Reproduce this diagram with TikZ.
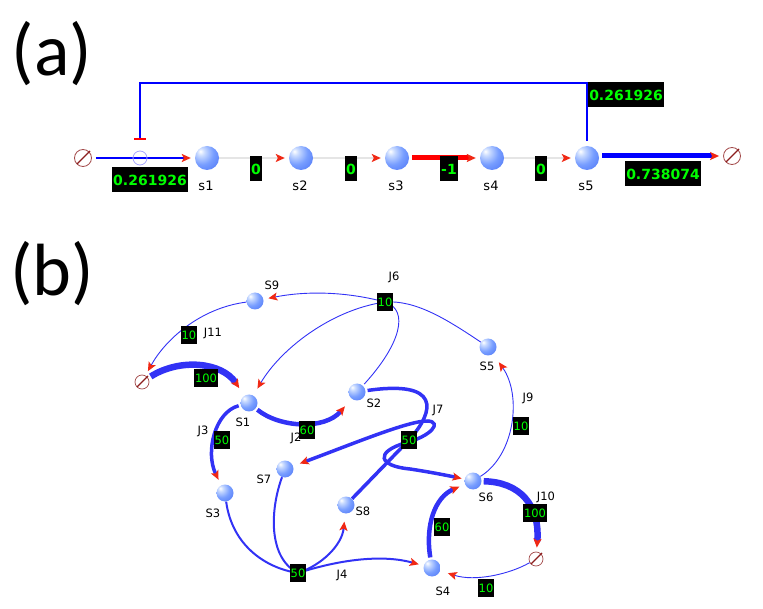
\documentclass[tikz,border=0pt]{standalone}
\usepackage{fontspec}
\setmainfont{DejaVu Sans}
\newfontfamily\capfont{Carlito}
\usetikzlibrary{arrows.meta}
\definecolor{sphlight}{RGB}{200,218,255}
\definecolor{sphmid}{RGB}{120,158,255}
\definecolor{sphdark}{RGB}{75,115,245}
\definecolor{vgreen}{RGB}{0,255,0}
\definecolor{nullred}{RGB}{140,30,30}
\definecolor{flowblue}{RGB}{0,0,255}
\definecolor{netblue}{RGB}{50,50,245}
\definecolor{tipred}{RGB}{240,40,20}
\pgfdeclareradialshading{sphshade}{\pgfpoint{-14bp}{14bp}}{color(0bp)=(white);color(8bp)=(sphlight);color(24bp)=(sphmid);color(46bp)=(sphdark);color(100bp)=(sphdark)}
\newcommand\nullslash[2]{\draw[nullred,line width=1.3pt] ([shift={(-#2,#2)}]#1.center) -- ([shift={(#2+1,-#2-1)}]#1.center);}
\begin{document}
\begin{tikzpicture}[x=1pt,y=-1pt,
  >={Stealth[color=tipred,length=9pt,width=8pt,inset=2pt]},
  sphA/.style={circle,minimum size=24pt,inner sep=0,shade,shading=sphshade},
  sphB/.style={circle,minimum size=17pt,inner sep=0,shade,shading=sphshade},
  nulA/.style={circle,draw=nullred!80,line width=0.8pt,minimum size=17pt,inner sep=0},
  nulB/.style={circle,draw=nullred!80,line width=0.7pt,minimum size=14pt,inner sep=0},
  valA/.style={fill=black,text=vgreen,font=\bfseries\fontsize{14}{14}\selectfont,inner xsep=1pt,minimum height=25pt},
  valB/.style={fill=black,text=vgreen,font=\fontsize{11.5}{11.5}\selectfont,inner xsep=1pt,minimum height=18pt},
  slab/.style={font=\fontsize{13}{13}\selectfont,inner sep=0},
  jlab/.style={font=\fontsize{11.5}{11.5}\selectfont,inner sep=0},
  caplab/.style={font=\capfont\fontsize{74}{74}\selectfont,inner sep=0},
  thinline/.style={netblue,line width=0.9pt},
  w100/.style={netblue,line width=6.5pt},
  w60/.style={netblue,line width=4.5pt},
  w50/.style={netblue,line width=3.5pt},
  w20/.style={netblue,line width=2pt}]
\useasboundingbox (0,0) rectangle (763,609);

% ---------- (a) ----------
\node[caplab] (capa) at (52,54) {(a)};
\node[nulA] (n0) at (83,158) {};
\nullslash{n0}{6}
\node[nulA] (n1) at (732,156) {};
\nullslash{n1}{6}
\node[sphA] (s1) at (207,158) {};
\node[sphA] (s2) at (301,158) {};
\node[sphA] (s3) at (397,158) {};
\node[sphA] (s4) at (492,158) {};
\node[sphA] (s5) at (587,158) {};
\node[slab] (ls1) at (206,186) {s1};
\node[slab] (ls2) at (300,186) {s2};
\node[slab] (ls3) at (396,186) {s3};
\node[slab] (ls4) at (491,186) {s4};
\node[slab] (ls5) at (586,186) {s5};

\draw[flowblue,line width=2.5pt,->,shorten >=4pt,shorten <=4pt] (n0) -- (s1);
\node[circle,draw=blue!35,line width=0.8pt,minimum size=14pt,inner sep=0] (c1) at (140,158) {};
\node[fill=red,minimum width=12pt,minimum height=2.5pt,inner sep=0] (bar) at (140,139) {};
\coordinate (tl) at (140,83);
\draw[flowblue,line width=2pt,shorten <=5pt] (s5.north) |- (tl) -- (bar.north);
\draw[gray!20,line width=1.5pt,->,shorten >=4pt] (s1) -- (s2);
\draw[gray!20,line width=1.5pt,->,shorten >=4pt] (s2) -- (s3);
\draw[red,line width=5pt,->,shorten >=4pt,shorten <=3pt] (s3) -- (s4);
\draw[gray!20,line width=1.5pt,->,shorten >=4pt] (s4) -- (s5);
\draw[flowblue,line width=5pt,->,shorten >=4pt,shorten <=3pt] (s5.east |- n1) -- (n1);

\node[valA] (va1) at (150,180) {0.261926};
\node[valA] (va2) at (256,169) {0};
\node[valA] (va3) at (351,169) {0};
\node[valA] (va4) at (449,169) {-1};
\node[valA] (va5) at (541,169) {0};
\node[valA] (va6) at (663,174) {0.738074};
\node[valA] (va7) at (626,95) {0.261926};

% ---------- (b) ----------
\node[caplab] (capb) at (52,274) {(b)};
\node[sphB] (S9) at (255,301) {};
\node[sphB] (S5) at (488,347) {};
\node[sphB] (S1) at (249,403) {};
\node[sphB] (S2) at (357,392) {};
\node[sphB] (S7) at (285,469) {};
\node[sphB] (S3) at (225,493) {};
\node[sphB] (S8) at (346,505) {};
\node[sphB] (S6) at (473,481) {};
\node[sphB] (S4) at (432,568) {};
\node[nulB] (nB1) at (142,382) {};
\nullslash{nB1}{5}
\node[nulB] (nB2) at (536,559) {};
\nullslash{nB2}{5}

\node[jlab] (lS9) at (272,285) {S9};
\node[jlab] (lS5) at (487,366) {S5};
\node[jlab] (lS1) at (243,422) {S1};
\node[jlab] (lS2) at (374,403) {S2};
\node[jlab] (lS7) at (264,479) {S7};
\node[jlab] (lS3) at (213,513) {S3};
\node[jlab] (lS8) at (363,511) {S8};
\node[jlab] (lS6) at (486,497) {S6};
\node[jlab] (lS4) at (443,591) {S4};

\node[jlab] (lJ6) at (394,277) {J6};
\node[jlab] (lJ11) at (213,333) {J11};
\node[jlab] (lJ2) at (296,438) {J2};
\node[jlab] (lJ3) at (203,431) {J3};
\node[jlab] (lJ7) at (438,410) {J7};
\node[jlab] (lJ4) at (342,575) {J4};
\node[jlab] (lJ9) at (528,398) {J9};
\node[jlab] (lJ10) at (546,497) {J10};

\coordinate (j6) at (385,302);
\coordinate (j7) at (409,440);
\coordinate (j4) at (298,573);

% J11
\draw[thinline,->,shorten >=5pt] (S9) .. controls (200,308) and (165,340) .. (nB1);
% J6
\draw[thinline] (S5) .. controls (445,318) and (415,300) .. (j6);
\draw[thinline,shorten <=2pt] (S2) .. controls (400,345) and (410,310) .. (j6);
\draw[thinline,->,shorten >=5pt] (j6) .. controls (340,290) and (300,292) .. (S9);
\draw[thinline,->,shorten >=8pt] (j6) .. controls (330,310) and (280,350) .. (S1);
% J1
\draw[w100,->,shorten >=9pt,shorten <=3pt] (nB1) .. controls (180,358) and (222,362) .. (S1);
% J2
\draw[w60,->,shorten >=10pt,shorten <=2pt] (S1) .. controls (280,428) and (325,430) .. (S2);
% J3
\draw[w50,->,shorten >=6pt,shorten <=2pt] (S1) .. controls (215,412) and (205,452) .. (S3);
% J7
\draw[w50,shorten <=2pt] (S2) .. controls (440,380) and (436,410) .. (j7) -- (S8);
\draw[w50,<->,shorten <=7pt,shorten >=3pt] (S7) .. controls (350,445) and (410,420) .. (428,421) .. controls (442,422) and (432,436) .. (405,443) .. controls (375,452) and (378,466) .. (410,469) .. controls (430,472) and (450,476) .. (S6);
% J4
\draw[w20] (S3) .. controls (232,545) and (265,568) .. (j4);
\draw[w20] (S7) .. controls (270,510) and (268,558) .. (j4);
\draw[w20,->,shorten >=8pt] (j4) .. controls (322,565) and (342,545) .. (S8);
\draw[w20,->,shorten >=5pt] (j4) .. controls (345,558) and (385,555) .. (S4);
% J8
\draw[w60,->,shorten >=6pt,shorten <=2pt] (S4) .. controls (425,525) and (435,497) .. (S6);
% J10
\draw[w100,->,shorten >=4pt,shorten <=2pt] (S6) .. controls (520,482) and (540,505) .. (nB2);
% J5
\draw[thinline,->,shorten >=8pt] (nB2) .. controls (510,574) and (475,582) .. (S4);
% J9
\draw[thinline,->,shorten >=10pt] (S6) .. controls (515,455) and (522,395) .. (S5);

\node[valB] (J6b) at (j6) {10};
\node[valB] (J11b) at (189,335) {10};
\node[valB] (J1b) at (206,378) {100};
\node[valB] (J2b) at (307,430) {60};
\node[valB] (J3b) at (222,440) {50};
\node[valB] (J7b) at (j7) {50};
\node[valB] (J4b) at (j4) {50};
\node[valB] (J9b) at (521,426) {10};
\node[valB] (J10b) at (535,513) {100};
\node[valB] (J8b) at (442,527) {60};
\node[valB] (J5b) at (486,588) {10};
\end{tikzpicture}
\end{document}
